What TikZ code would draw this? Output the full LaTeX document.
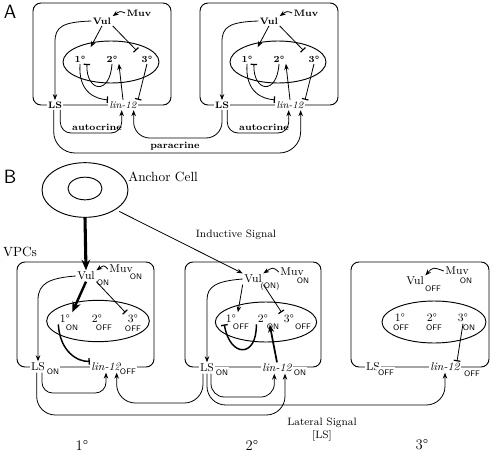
\documentclass[tikz,border=0pt]{standalone}
\usepackage{tikz}
\usetikzlibrary{arrows.meta,shapes.geometric}

\tikzset{
  cell/.style = {draw, line width=0.7pt, rounded corners=6pt},
  fate/.style = {draw, ellipse, line width=0.7pt, inner sep=0pt},
  act/.style = {-{Stealth[length=4.5pt,width=3.4pt]}, line width=0.6pt},
  inh/.style = {-{Bar[width=5pt,line width=0.9pt]}, line width=0.6pt},
  inhthick/.style = {-{Bar[width=5pt,line width=1pt]}, line width=1.1pt},
  heavy/.style = {-{Stealth[length=8pt,width=6.5pt]}, line width=2.3pt},
  heavymid/.style = {-{Stealth[length=6pt,width=4.5pt]}, line width=1.3pt},
  txtA/.style = {font=\fontsize{7}{8}\selectfont\bfseries, inner sep=1pt},
  txtB/.style = {font=\fontsize{8.5}{9}\selectfont, inner sep=1pt},
  onoff/.style = {font=\fontsize{6}{6}\selectfont\sffamily, inner sep=0.5pt},
  onoffline/.style = {onoff, fill=white, inner xsep=1pt, inner ysep=2.6pt},
  notelab/.style = {font=\fontsize{8}{9}\selectfont, inner sep=1pt},
  panel/.style = {font=\sffamily\Large, inner sep=0pt}
}

\begin{document}
\begin{tikzpicture}[x=0.75pt,y=-0.75pt]
  \useasboundingbox (0,0) rectangle (492,453);

  % panel A
  \node[panel] (labA) at (10,12) {A};
  \foreach \n/\dx in {1/0,2/167} {
    \draw[cell] (\dx+33,3) rectangle (\dx+171,105);
    \node[fate, minimum width=72pt, minimum height=31.5pt] (discA\n) at (\dx+111,62) {};
    \node[txtA] (vulA\n) at (\dx+102,21) {Vul};
    \node[txtA] (muvA\n) at (\dx+139,13) {Muv};
    \node[txtA] (f1A\n) at (\dx+80,59) {1\textdegree};
    \node[txtA] (f2A\n) at (\dx+112,59) {2\textdegree};
    \node[txtA] (f3A\n) at (\dx+147,59) {3\textdegree};
    \node[txtA, fill=white] (lsA\n) at (\dx+55,105) {LS};
    \node[txtA, fill=white, font=\fontsize{7.5}{8}\selectfont\itshape] (linA\n) at (\dx+123,105) {lin-12};
    \draw[act] (muvA\n.west) .. controls (\dx+120,11) .. (vulA\n.north east);
    \draw[act] (vulA\n.west) .. controls (\dx+62,22) and (\dx+55,27) .. (\dx+55,42) -- (lsA\n.north);
    \draw[act, shorten >=6pt] (vulA\n.south) -- (f1A\n.north east);
    \draw[inh, shorten >=4pt] (vulA\n.south east) -- (f3A\n.north west);
    \draw[inh] (f2A\n.south) .. controls (\dx+110,96) and (\dx+86,92) .. (f1A\n.south east);
    \draw[inh] (f1A\n.south) .. controls (\dx+78,93) and (\dx+96,99) .. (linA\n.north west);
    \draw[act] (linA\n.north) -- (f2A\n.south east);
    \draw[inh] (f3A\n.south) -- (linA\n.north east);
    \draw[act, rounded corners=8pt] ([xshift=4pt]lsA\n.south) |- (\dx+90,133) -| ([xshift=-1pt]linA\n.south);
    \node[txtA] (autoA\n) at (\dx+97,127) {autocrine};
  }
  \draw[act, rounded corners=12pt] (lsA2.south) |- (180,138) -| ([xshift=8pt]linA1.south);
  \draw[act, rounded corners=16pt] ([xshift=-1pt]lsA1.south) |- (180,153) -| ([xshift=8pt]linA2.south);
  \node[txtA] (paraA) at (175,146) {paracrine};

  % panel B
  \node[panel] (labB) at (10,177) {B};
  \node[fate, minimum width=64.5pt, minimum height=41pt] (anchor) at (85,190) {};
  \node[fate, minimum width=25.5pt, minimum height=17pt] (nucleus) at (85,188.5) {};
  \node[anchor=west, inner sep=0pt] (anchorlab) at (128,177) {Anchor Cell};
  \node[inner sep=0pt] (vpcs) at (20,252) {VPCs};
  \node[notelab] (indlab) at (236,235) {Inductive Signal};

  % 1st VPC
  \draw[cell] (17,262) rectangle (154,367);
  \node[fate, minimum width=77pt, minimum height=31pt] (discB1) at (98,321) {};
  \node[txtB] (vulB1) at (86,276) {Vul};
  \node[onoff] (vulB1s) at (103,283) {ON};
  \node[txtB] (muvB1) at (121,269) {Muv};
  \node[onoff] (muvB1s) at (136,277) {ON};
  \node[txtB] (f1B1) at (65,319) {1\textdegree};
  \node[onoff] (f1B1s) at (72,328) {ON};
  \node[txtB] (f2B1) at (97,319) {2\textdegree};
  \node[onoff] (f2B1s) at (104,328) {OFF};
  \node[txtB] (f3B1) at (133,319) {3\textdegree};
  \node[onoff] (f3B1s) at (133,329) {OFF};
  \node[txtB, fill=white] (lsB1) at (38,367) {LS};
  \node[onoffline] (lsB1s) at (53,372) {ON};
  \node[txtB, fill=white, font=\fontsize{8.5}{9}\selectfont\itshape] (linB1) at (106,367) {lin-12};
  \node[onoffline] (linB1s) at (128,372) {OFF};

  \draw[heavy] (anchor.south) -- (vulB1.north);
  \draw[act] (muvB1.west) .. controls (104,265) .. (vulB1.north east);
  \draw[heavy, line width=1.8pt, shorten >=1pt] (vulB1.south) -- (f1B1.north east);
  \draw[inh, shorten >=1pt] (vulB1.south east) -- (f3B1.north west);
  \draw[act] (vulB1.west) .. controls (50,278) and (38,283) .. (38,300) -- (lsB1.north);
  \draw[inhthick] (f1B1.south west) .. controls (60,352) and (78,362) .. (linB1.north west);

  % 2nd VPC
  \draw[cell] (185,262) rectangle (321,367);
  \node[fate, minimum width=76pt, minimum height=30pt] (discB2) at (266,322) {};
  \node[txtB] (vulB2) at (253,279) {Vul};
  \node[onoff] (vulB2s) at (270,286) {(ON)};
  \node[txtB] (muvB2) at (292,272) {Muv};
  \node[onoff] (muvB2s) at (303,281) {ON};
  \node[txtB] (f1B2) at (231,319) {1\textdegree};
  \node[onoff] (f1B2s) at (241,327) {OFF};
  \node[txtB] (f2B2) at (263,319) {2\textdegree};
  \node[onoff] (f2B2s) at (273,327) {ON};
  \node[txtB] (f3B2) at (289,319) {3\textdegree};
  \node[onoff] (f3B2s) at (303,327) {OFF};
  \node[txtB, fill=white] (lsB2) at (207,368) {LS};
  \node[onoffline] (lsB2s) at (222,373) {ON};
  \node[txtB, fill=white, font=\fontsize{8.5}{9}\selectfont\itshape] (linB2) at (277,368) {lin-12};
  \node[onoffline] (linB2s) at (300,373) {ON};

  \draw[act, shorten <=3pt] (anchor.south east) -- (vulB2.north west);
  \draw[act] (muvB2.west) .. controls (273,267) .. (vulB2.north east);
  \draw[act, shorten >=1pt] (vulB2.south west) -- (f1B2.north east);
  \draw[inh, shorten >=1pt] (vulB2.south east) -- (f3B2.north west);
  \draw[act] (vulB2.west) .. controls (217,281) and (207,286) .. (207,300) -- (lsB2.north);
  \draw[inhthick] (f2B2.south west) .. controls (257,358) and (230,358) .. (f1B2.south west);
  \draw[heavymid] (linB2.north) -- (f2B2.south east);

  % 3rd VPC
  \draw[cell] (351,262) rectangle (489,367);
  \node[fate, minimum width=78pt, minimum height=31.5pt] (discB3) at (434,322) {};
  \node[txtB] (vulB3) at (415,281) {Vul};
  \node[onoff] (vulB3s) at (433,289) {OFF};
  \node[txtB] (muvB3) at (457,271) {Muv};
  \node[onoff] (muvB3s) at (466,281) {ON};
  \node[txtB] (f1B3) at (400,318) {1\textdegree};
  \node[onoff] (f1B3s) at (401,328) {OFF};
  \node[txtB] (f2B3) at (432,318) {2\textdegree};
  \node[onoff] (f2B3s) at (434,328) {OFF};
  \node[txtB] (f3B3) at (463,318) {3\textdegree};
  \node[onoff] (f3B3s) at (469,328) {ON};
  \node[txtB, fill=white] (lsB3) at (373,367) {LS};
  \node[onoffline] (lsB3s) at (386,373) {OFF};
  \node[txtB, fill=white, font=\fontsize{8.5}{9}\selectfont\itshape] (linB3) at (445,367) {lin-12};
  \node[onoffline] (linB3s) at (472,374) {OFF};

  \draw[act] (muvB3.west) .. controls (433,267) .. (vulB3.north east);
  \draw[inh] (f3B3.south) -- ([xshift=9pt]linB3.north);

  % lateral signal
  \draw[act, rounded corners=8pt] ([xshift=3pt]lsB1.south) |- (70,393) -| (linB1.south);
  \draw[act, rounded corners=14pt] ([xshift=-1pt]lsB1.south) |- (160,415) -| ([xshift=6pt]linB2.south);
  \draw[act, rounded corners=14pt] ([xshift=-3pt]lsB2.south) |- (160,403) -| ([xshift=8pt]linB1.south);
  \draw[act, rounded corners=10pt] ([xshift=3pt]lsB2.south) |- (240,397) -| ([xshift=-2pt]linB2.south);
  \draw[act, rounded corners=14pt] (lsB2.south) |- (330,405) -| (linB3.south);
  \node[notelab] (latlab) at (322,423) {Lateral Signal};
  \node[notelab] (latlab2) at (322,436) {[LS]};

  \node[font=\fontsize{11}{12}\selectfont] (fate1) at (82,445) {1\textdegree};
  \node[font=\fontsize{11}{12}\selectfont] (fate2) at (252,445) {2\textdegree};
  \node[font=\fontsize{11}{12}\selectfont] (fate3) at (422,445) {3\textdegree};
\end{tikzpicture}
\end{document}
